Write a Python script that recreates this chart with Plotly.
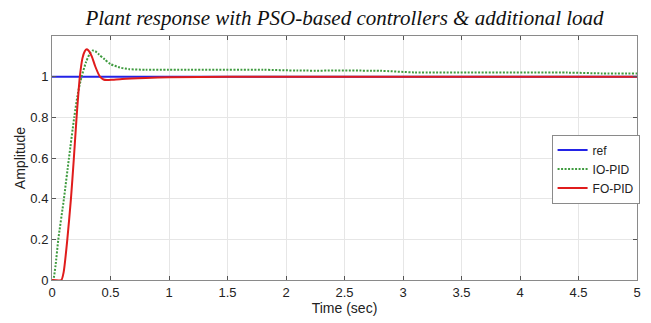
import plotly.graph_objects as go

# Data
t_ref = [0, 5]
y_ref = [1, 1]

t_io = [0, 0.01, 0.03, 0.054, 0.102, 0.145, 0.19, 0.222, 0.253, 0.29, 0.32, 0.345,
        0.37, 0.4, 0.45, 0.5, 0.58, 0.66, 0.8, 1.0, 1.8, 2.1, 2.8, 3.1, 4.4, 4.7, 5.0]
y_io = [0, 0, 0.07, 0.2, 0.4, 0.6, 0.8, 0.92, 1.0, 1.07, 1.11, 1.128,
        1.125, 1.11, 1.085, 1.062, 1.045, 1.037, 1.034, 1.034, 1.034, 1.03, 1.029, 1.021, 1.02, 1.016, 1.016]

t_fo = [0, 0.08, 0.1, 0.131, 0.162, 0.187, 0.21, 0.238, 0.26, 0.28, 0.295, 0.31,
        0.34, 0.37, 0.41, 0.44, 0.47, 0.52, 0.6, 0.8, 1.0, 1.5, 2.0, 5.0]
y_fo = [0, 0, 0.04, 0.2, 0.4, 0.6, 0.8, 1.0, 1.09, 1.125, 1.135, 1.13,
        1.1, 1.05, 1.0, 0.986, 0.983, 0.985, 0.989, 0.994, 0.997, 0.999, 1.0, 1.0]

x_ticks = [0, 0.5, 1, 1.5, 2, 2.5, 3, 3.5, 4, 4.5, 5]
x_labels = ["0", "0.5", "1", "1.5", "2", "2.5", "3", "3.5", "4", "4.5", "5"]
y_ticks = [0, 0.2, 0.4, 0.6, 0.8, 1]
y_labels = ["0", "0.2", "0.4", "0.6", "0.8", "1"]

fig = go.Figure()
fig.add_trace(go.Scatter(x=t_ref, y=y_ref, mode="lines", name="ref",
                         line=dict(color="#2323e6", width=2)))
fig.add_trace(go.Scatter(x=t_io, y=y_io, mode="lines", name="IO-PID",
                         line=dict(color="#3f9b3f", width=2, dash="2px,1.5px", shape="spline", smoothing=0.6)))
fig.add_trace(go.Scatter(x=t_fo, y=y_fo, mode="lines", name="FO-PID",
                         line=dict(color="#e01c1c", width=2, shape="spline", smoothing=0.6)))

axis_common = dict(
    showgrid=True, gridcolor="#e6e6e6", gridwidth=1,
    showline=True, linecolor="#8a8a8a", linewidth=1, mirror="ticks",
    ticks="inside", ticklen=4, tickcolor="#555555",
    zeroline=False,
    tickfont=dict(family="Liberation Sans, Arial", size=13, color="#222222"),
)

fig.update_layout(
    width=651, height=323,
    margin=dict(l=52, r=10, t=36, b=37),
    paper_bgcolor="white", plot_bgcolor="white",
    title=dict(text="<i>Plant response with PSO-based controllers &amp; additional load</i>",
               font=dict(family="Liberation Serif, Times New Roman, serif", size=21, color="#111111"),
               x=0.5, xref="paper", xanchor="center", y=1 - 25 / 323, yref="container", yanchor="bottom"),
    xaxis=dict(range=[0, 5], tickvals=x_ticks, ticktext=x_labels,
               title=dict(text="Time (sec)", font=dict(family="Liberation Sans, Arial", size=14, color="#222222"),
                          standoff=4),
               **axis_common),
    yaxis=dict(range=[0, 1.2], tickvals=y_ticks, ticktext=y_labels,
               title=dict(text="Amplitude", font=dict(family="Liberation Sans, Arial", size=14, color="#222222"),
                          standoff=1),
               **axis_common),
    legend=dict(x=(555 - 52) / 589, y=1 - (137 - 36) / 250, xanchor="left", yanchor="top",
                bgcolor="white", bordercolor="#8a8a8a", borderwidth=1,
                font=dict(family="Liberation Sans, Arial", size=12, color="#222222"),
                tracegroupgap=0, itemwidth=30),
    showlegend=True,
)

fig.write_html("out.html")
